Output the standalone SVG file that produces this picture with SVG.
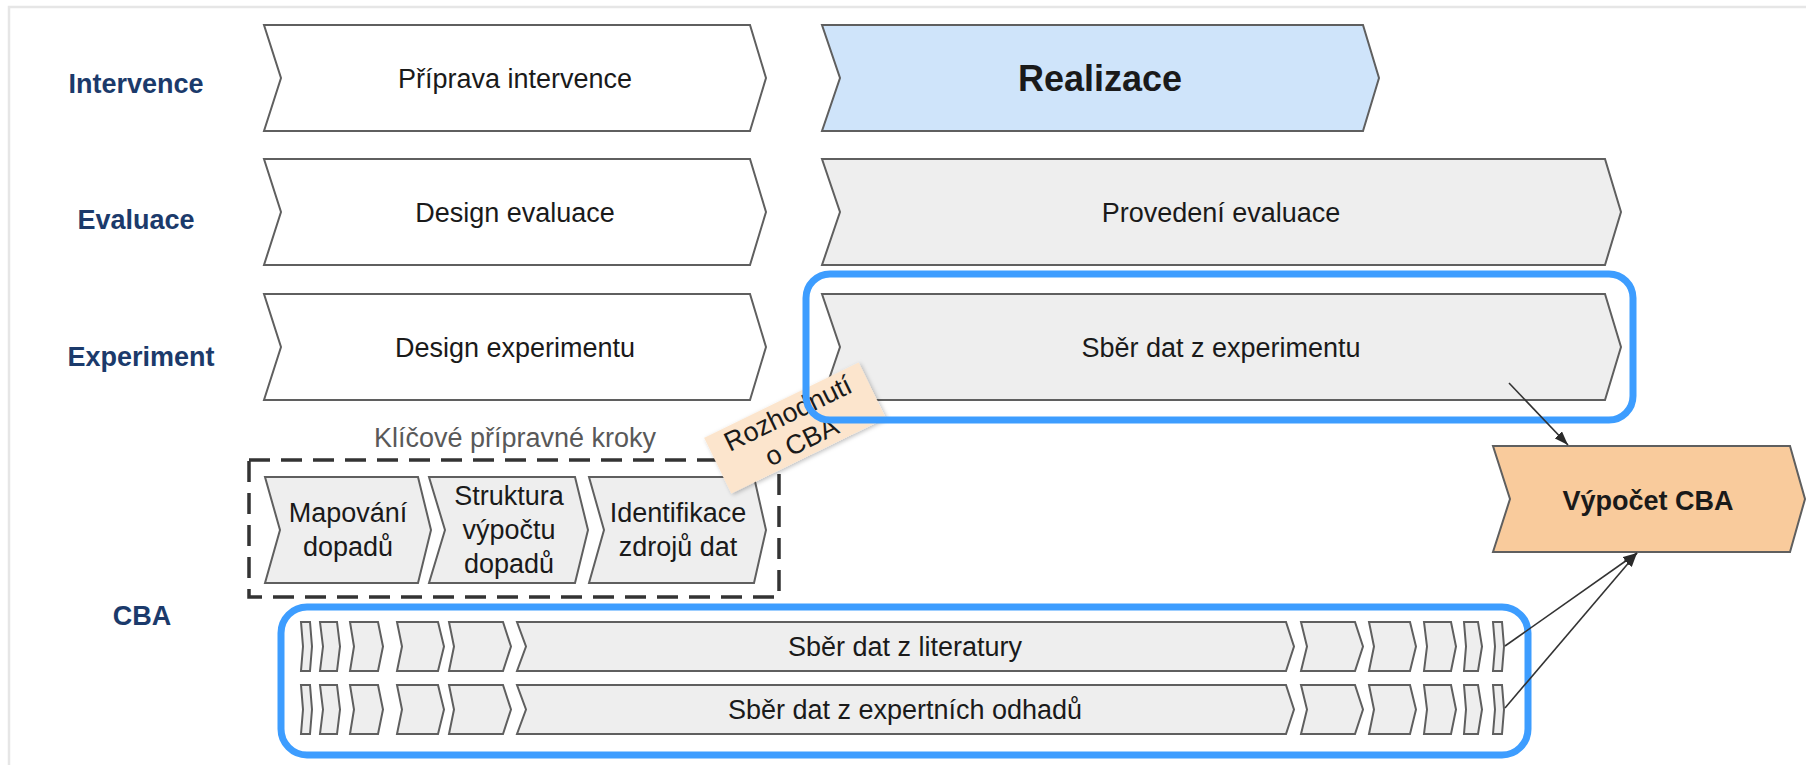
<svg xmlns="http://www.w3.org/2000/svg" xmlns:xlink="http://www.w3.org/1999/xlink" width="1806" height="765" viewBox="0 0 1806 765">
<defs>
<style>
text{font-family:"Liberation Sans",Arial,sans-serif;font-size:27px;fill:#1a1a1a;text-anchor:middle}
.lbl{font-weight:bold;fill:#1b3a6b}
.bold{font-weight:bold}
.chev{stroke:#5f5f5f;stroke-width:2;stroke-linejoin:miter}
.white{fill:#ffffff}
.grey{fill:#eeeeee}
.blue{fill:#cfe4fa}
.orange{fill:#f9cb9c}
.hl{fill:none;stroke:#3d9dff;stroke-width:7}
.conn{stroke:#333333;stroke-width:1.6;fill:none}
</style>
<marker id="ah" viewBox="0 0 14 10" refX="14" refY="5" markerWidth="14" markerHeight="10" markerUnits="userSpaceOnUse" orient="auto">
<path d="M0,0 L14,5 L0,10 Z" fill="#2a2a2a"/>
</marker>
<filter id="sh" x="-20%" y="-30%" width="140%" height="160%">
<feDropShadow dx="1" dy="2" stdDeviation="2" flood-color="#000" flood-opacity="0.25"/>
</filter>
<g id="strip" class="chev grey">
<path d="M301,0 L310,0 L312,24.5 L310,49 L301,49 L303,24.5 Z"/>
<path d="M320,0 L337,0 L340,24.5 L337,49 L320,49 L323,24.5 Z"/>
<path d="M350,0 L378,0 L383,24.5 L378,49 L350,49 L354,24.5 Z"/>
<path d="M397,0 L438,0 L444,24.5 L438,49 L397,49 L402,24.5 Z"/>
<path d="M449,0 L503,0 L511,24.5 L503,49 L449,49 L454,24.5 Z"/>
<path d="M517,0 L1286,0 L1294,24.5 L1286,49 L517,49 L526,24.5 Z"/>
<path d="M1301,0 L1355,0 L1363,24.5 L1355,49 L1301,49 L1307,24.5 Z"/>
<path d="M1369,0 L1410,0 L1416,24.5 L1410,49 L1369,49 L1374,24.5 Z"/>
<path d="M1424,0 L1451,0 L1456,24.5 L1451,49 L1424,49 L1427,24.5 Z"/>
<path d="M1464,0 L1478,0 L1482,24.5 L1478,49 L1464,49 L1466,24.5 Z"/>
<path d="M1493,0 L1502,0 L1504,24.5 L1502,49 L1493,49 L1495,24.5 Z"/>
</g>
</defs>
<rect width="1806" height="765" fill="#ffffff"/>
<path d="M9,765 L9,7 L1806,7" fill="none" stroke="#e6e6e6" stroke-width="2.5"/>

<g id="row-labels">
<text class="lbl" x="136" y="93">Intervence</text>
<text class="lbl" x="136" y="229">Evaluace</text>
<text class="lbl" x="141" y="366">Experiment</text>
<text class="lbl" x="142" y="625">CBA</text>
</g>

<g id="priprava-intervence">
<path class="chev white" d="M264,25 L750,25 L766,78 L750,131 L264,131 L281,78 Z"/>
<text x="515" y="88">Příprava intervence</text>
</g>
<g id="realizace">
<path class="chev blue" d="M822,25 L1363,25 L1379,78 L1363,131 L822,131 L840,78 Z"/>
<text class="bold" x="1100" y="91" style="font-size:36px">Realizace</text>
</g>
<g id="design-evaluace">
<path class="chev white" d="M264,159 L750,159 L766,212 L750,265 L264,265 L281,212 Z"/>
<text x="515" y="222">Design evaluace</text>
</g>
<g id="provedeni-evaluace">
<path class="chev grey" d="M822,159 L1605,159 L1621,212 L1605,265 L822,265 L840,212 Z"/>
<text x="1221" y="222">Provedení evaluace</text>
</g>
<g id="design-experimentu">
<path class="chev white" d="M264,294 L750,294 L766,347 L750,400 L264,400 L281,347 Z"/>
<text x="515" y="357">Design experimentu</text>
</g>
<g id="sber-experiment">
<path class="chev grey" d="M822,294 L1605,294 L1621,347 L1605,400 L822,400 L840,347 Z"/>
<text x="1221" y="357">Sběr dat z experimentu</text>
</g>

<g id="klicove-kroky">
<text x="515" y="447" style="fill:#595959">Klíčové přípravné kroky</text>
<rect x="249" y="460" width="530" height="137" fill="none" stroke="#333333" stroke-width="3.5" stroke-dasharray="21 11"/>
</g>
<g id="mapovani-dopadu">
<path class="chev grey" d="M265,477 L418,477 L431,530 L418,583 L265,583 L280,530 Z"/>
<text x="348" y="522">Mapování</text>
<text x="348" y="556">dopadů</text>
</g>
<g id="struktura-vypoctu">
<path class="chev grey" d="M429,477 L575,477 L588,530 L575,583 L429,583 L445,530 Z"/>
<text x="509" y="505">Struktura</text>
<text x="509" y="539">výpočtu</text>
<text x="509" y="573">dopadů</text>
</g>
<g id="identifikace-zdroju">
<path class="chev grey" d="M589,477 L754,477 L766,530 L754,583 L589,583 L604,530 Z"/>
<text x="678" y="522">Identifikace</text>
<text x="678" y="556">zdrojů dat</text>
</g>

<g id="rozhodnuti-o-cba" transform="translate(795,428) rotate(-26)">
<rect x="-86" y="-31" width="172" height="62" fill="#fce5cd" filter="url(#sh)"/>
<text x="0" y="-7">Rozhodnutí</text>
<text x="0" y="24">o CBA</text>
</g>

<g id="sber-literatura">
<use xlink:href="#strip" transform="translate(0,622)"/>
<text x="905" y="656">Sběr dat z literatury</text>
</g>
<g id="sber-expertni">
<use xlink:href="#strip" transform="translate(0,685)"/>
<text x="905" y="719">Sběr dat z expertních odhadů</text>
</g>

<g id="vypocet-cba">
<path class="chev orange" d="M1493,446 L1790,446 L1805,499 L1790,552 L1493,552 L1510,499 Z"/>
<text class="bold" x="1648" y="510">Výpočet CBA</text>
</g>

<g id="highlights">
<rect class="hl" x="806" y="274" width="827" height="146" rx="24"/>
<rect class="hl" x="281" y="607" width="1247" height="148" rx="26"/>
</g>

<g id="connectors">
<line class="conn" x1="1509" y1="383" x2="1568" y2="445" marker-end="url(#ah)"/>
<line class="conn" x1="1505" y1="646" x2="1637" y2="553" marker-end="url(#ah)"/>
<line class="conn" x1="1505" y1="708" x2="1637" y2="553" marker-end="url(#ah)"/>
</g>
</svg>
